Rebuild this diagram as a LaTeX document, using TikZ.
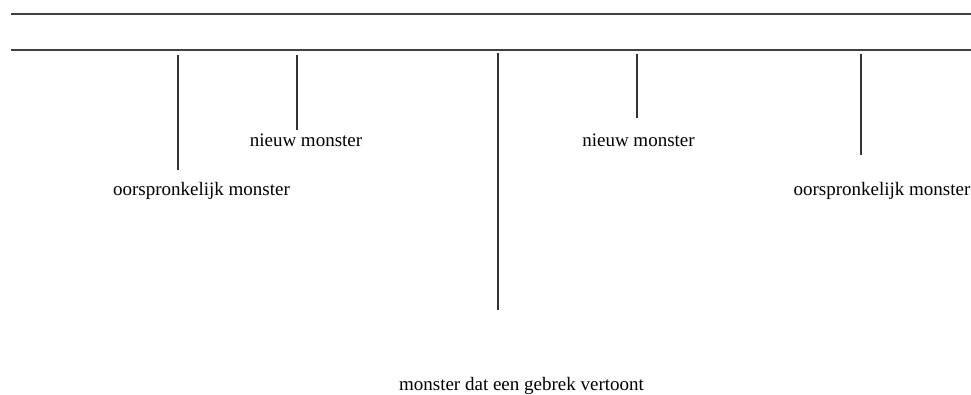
\documentclass[tikz,border=0pt]{standalone}
\usepackage{fontspec}
\setmainfont{Liberation Serif}
\usetikzlibrary{positioning}

\tikzset{
    rail/.style={line width=1.2pt, draw=black!75},
    tick/.style={line width=1.4pt, draw=black!80},
    lbl/.style={anchor=base, inner sep=0pt, font=\fontsize{19}{21}\selectfont}
}

\begin{document}
\begin{tikzpicture}[x=1pt, y=-1pt]
                        \useasboundingbox (0, 0) rectangle (971, 394);
                        % the two rails
                        \coordinate (r1a) at (11, 14);
                        \coordinate (r1b) at (971, 14);
                        \coordinate (r2a) at (11, 50);
                        \coordinate (r2b) at (971, 50);
                        \draw[rail] (r1a) -- (r1b);
                        \draw[rail] (r2a) -- (r2b);
                        % ticks
                        \coordinate (o1top) at (178, 55);
                        \coordinate (o1end) at (178, 170);
                        \coordinate (n1top) at (297, 55);
                        \coordinate (n1end) at (297, 130);
                        \coordinate (dtop) at (498, 53);
                        \coordinate (dend) at (498, 310);
                        \coordinate (n2top) at (637, 54);
                        \coordinate (n2end) at (637, 118);
                        \coordinate (o2top) at (861, 54);
                        \coordinate (o2end) at (861, 155);
                        \draw[tick] (o1top) -- (o1end);
                        \draw[tick] (n1top) -- (n1end);
                        \draw[tick] (dtop) -- (dend);
                        \draw[tick] (n2top) -- (n2end);
                        \draw[tick] (o2top) -- (o2end);
                        % labels
                        \node[lbl] (o1) at (201.5, 195) {oorspronkelijk monster};
                        \node[lbl] (n1) at (306, 146) {nieuw monster};
                        \node[lbl] (d) at (521.5, 390) {monster dat een gebrek vertoont};
                        \node[lbl] (n2) at (638.5, 146) {nieuw monster};
                        \node[lbl] (o2) at (882, 195) {oorspronkelijk monster};
                    \end{tikzpicture}
\end{document}
